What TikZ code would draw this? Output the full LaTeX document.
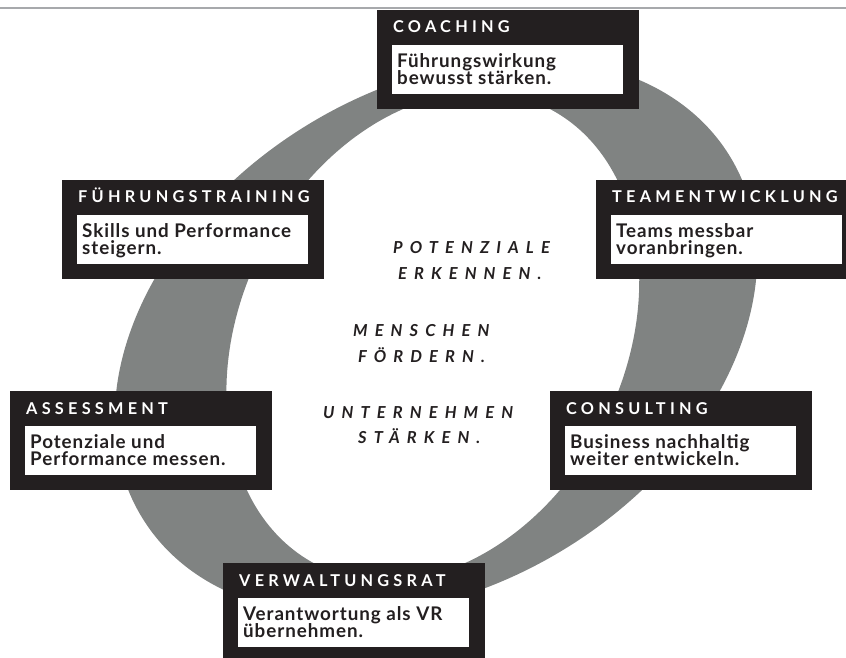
\documentclass[tikz,border=0pt]{standalone}
\usepackage{fontspec}
\setmainfont{Lato}
\newfontfamily\titlefont[LetterSpace=26]{Lato}
\newfontfamily\bodyfont[LetterSpace=5]{Lato}
\newfontfamily\mottofont[LetterSpace=43]{Lato}
\definecolor{boxblack}{HTML}{231F20}
\definecolor{ringgray}{HTML}{808382}
\definecolor{linegray}{HTML}{A7A9AC}
\tikzset{
  blackbox/.style={fill=boxblack, draw=none, inner sep=0pt, minimum width=262pt, minimum height=99pt},
  whitebox/.style={fill=white, draw=none, inner sep=0pt, minimum width=231pt, minimum height=49pt},
  titletext/.style={inner sep=0pt, text=white, font=\titlefont\bfseries\fontsize{16.3}{18}\selectfont},
  bodytext/.style={inner sep=0pt, text=boxblack, font=\bodyfont\bfseries\fontsize{18.8}{19}\selectfont},
  motto/.style={inner sep=0pt, text=boxblack, font=\mottofont\bfseries\itshape\fontsize{16.5}{19}\selectfont},
}
\newcommand\svcbox[6]{%
  \node[blackbox, anchor=north west] (#1) at (#2,#3) {};
  \node[whitebox, anchor=north west] (#1w) at ([xshift=15pt,yshift=-35pt]#1.north west) {};
  \node[titletext, anchor=base west] (#1t) at ([xshift=16pt,yshift=-23pt]#1.north west) {#4};
  \node[bodytext, anchor=base west] (#1a) at ([xshift=5pt,yshift=-22.5pt]#1w.north west) {#5};
  \node[bodytext, anchor=base west] (#1b) at ([xshift=5pt,yshift=-39.5pt]#1w.north west) {#6};
}
\begin{document}
\begin{tikzpicture}[x=1pt,y=1pt]
\useasboundingbox (0,0) rectangle (846,657);
\clip (0,0) rectangle (846,657);
% top rule
\coordinate (ruleL) at (0,649);
\coordinate (ruleR) at (846,649);
\draw[linegray, line width=1.4pt] (ruleL) -- (ruleR);
% ring
\fill[ringgray, even odd rule]
  [rotate around={31.7:(436,320)}] (436,320) ellipse [x radius=345, y radius=248]
  [rotate around={31.7:(433.5,322)}] (433.5,322) ellipse [x radius=256, y radius=192];
% motto
\node[motto, anchor=base west] (m1) at (393,403) {POTENZIALE};
\node[motto, anchor=base west] (m2) at (398,377) {ERKENNEN.};
\node[motto, anchor=base west] (m3) at (353,320) {MENSCHEN};
\node[motto, anchor=base west] (m4) at (358,295) {FÖRDERN.};
\node[motto, anchor=base west] (m5) at (323,239) {UNTERNEHMEN};
\node[motto, anchor=base west] (m6) at (358,214) {STÄRKEN.};
% boxes
\svcbox{coach}{377}{647}{COACHING}{Führungswirkung}{bewusst stärken.}
\svcbox{fuehr}{62}{477}{FÜHRUNGSTRAINING}{Skills und Performance}{steigern.}
\svcbox{team}{596}{477}{TEAMENTWICKLUNG}{Teams messbar}{voranbringen.}
\svcbox{assess}{10}{266}{ASSESSMENT}{Potenziale und}{Performance messen.}
\svcbox{consult}{550}{266}{CONSULTING}{Business nachhaltig}{weiter entwickeln.}
\svcbox{vr}{223}{94}{VERWALTUNGSRAT}{Verantwortung als VR}{übernehmen.}
\end{tikzpicture}
\end{document}
